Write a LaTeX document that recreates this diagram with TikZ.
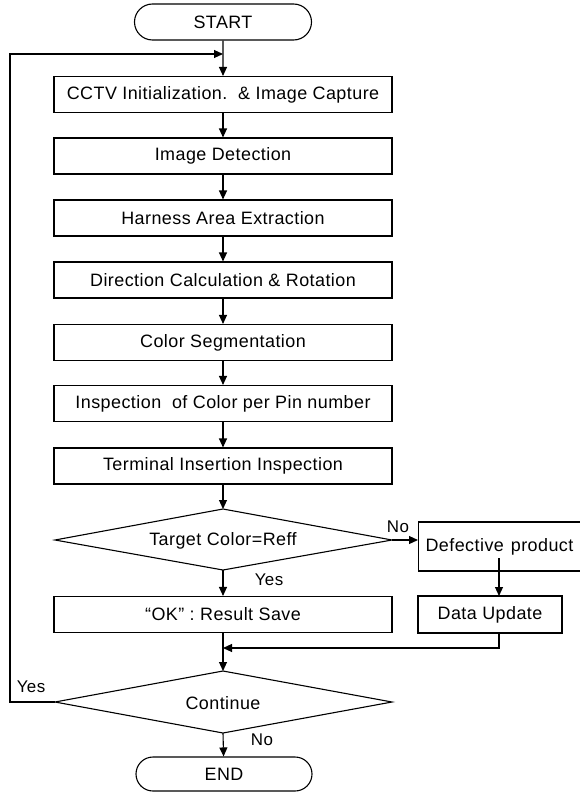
\documentclass[tikz,border=0pt]{standalone}
\usepackage{fontspec}
\setmainfont{Liberation Sans}[LetterSpace=2.5]
\usetikzlibrary{shapes.geometric,shapes.misc,arrows.meta}
\begin{document}
\begin{tikzpicture}[x=1bp,y=-1bp, line width=1.1bp,
  every node/.style={font=\fontsize{18}{20}\selectfont, inner sep=0pt},
  proc/.style={draw, minimum width=338bp, minimum height=36bp},
  term/.style={draw, rounded rectangle, minimum width=177bp, minimum height=36bp},
  arr/.style={-{Triangle[length=9bp,width=8bp]}},
  lbl/.style={font=\fontsize{17}{19}\selectfont}]
\useasboundingbox (0,0) rectangle (580,792);
\node[term] (start) at (223,22) {START};
\node[proc] (b1) at (223,94.5) {CCTV Initialization.\ \ \& Image Capture};
\node[proc] (b2) at (223,156) {Image Detection};
\node[proc] (b3) at (223,218) {Harness Area Extraction};
\node[proc] (b4) at (223,280) {Direction Calculation \& Rotation};
\node[proc] (b5) at (223,342.5) {Color Segmentation};
\node[proc] (b6) at (223,403.5) {Inspection\ \ of Color per Pin number};
\node[proc] (b7) at (223,466) {Terminal Insertion Inspection};
% decision 1 (drawn as polygon)
\coordinate (d1t) at (223,509);
\coordinate (d1r) at (392,540);
\coordinate (d1b) at (223,570);
\coordinate (d1l) at (55,540);
\draw (d1t) -- (d1r) -- (d1b) -- (d1l) -- cycle;
\node (d1) at (223,541) {Target Color=Reff};
\node[draw, anchor=west, minimum height=49bp, text width=158bp, inner sep=7bp, align=left] (def) at (418,546.5) {Defective \kern1bp product};
\node[draw, minimum width=144bp, minimum height=37bp] (du) at (490,614.5) {Data Update};
\node[proc] (ok) at (223,614.5) {``OK'' : Result Save};
% decision 2
\coordinate (d2t) at (223,671);
\coordinate (d2r) at (392,702);
\coordinate (d2b) at (223,733);
\coordinate (d2l) at (55,702);
\draw (d2t) -- (d2r) -- (d2b) -- (d2l) -- cycle;
\node (d2) at (223,703) {Continue};
\node[term, minimum width=176bp, minimum height=34bp] (end) at (224,774) {END};
% coordinates
\coordinate (fb1) at (10,702);
\coordinate (fb2) at (10,54);
\coordinate (fb3) at (223,54);
\coordinate (ds) at (499,558);
\coordinate (dt) at (499,596);
\coordinate (m1) at (499,633);
\coordinate (m2) at (499,648);
\coordinate (m3) at (223,648);
% connectors
\draw[arr] (start) -- (b1);
\draw[arr] (b1) -- (b2);
\draw[arr] (b2) -- (b3);
\draw[arr] (b3) -- (b4);
\draw[arr] (b4) -- (b5);
\draw[arr] (b5) -- (b6);
\draw[arr] (b6) -- (b7);
\draw[arr] (b7) -- (d1t);
\draw[arr] (d1r) -- (d1r -| def.west);
\draw[arr] (d1b) -- (ok);
\draw[arr] (ds) -- (dt);
\draw[arr] (m1) -- (m2) -- (m3);
\draw[arr] (ok) -- (d2t);
\draw[arr] (d2b) -- (end);
\draw[arr] (d2l) -- (fb1) -- (fb2) -- (fb3);
% labels
\node[lbl] (lno1) at (398,527) {No};
\node[lbl] (lyes1) at (269,580) {Yes};
\node[lbl] (lyes2) at (31,687) {Yes};
\node[lbl] (lno2) at (262,740) {No};
\end{tikzpicture}
\end{document}
